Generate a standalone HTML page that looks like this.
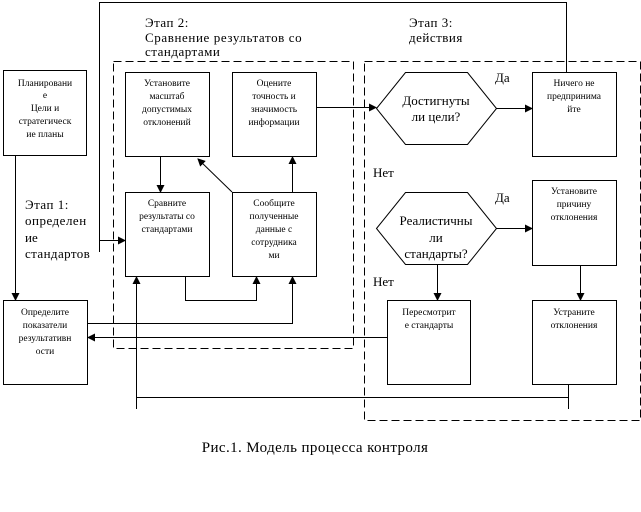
<!DOCTYPE html>
<html><head><meta charset="utf-8"><style>
body{margin:0;background:#fff;width:641px;height:507px;overflow:hidden}
svg text{font-family:"Liberation Serif","DejaVu Serif",serif;fill:#000}
.s{font-size:9.5px}
.m{font-size:13px}
</style></head><body>
<svg width="641" height="507" viewBox="0 0 641 507" xmlns="http://www.w3.org/2000/svg">
<defs><marker id="a" markerWidth="8" markerHeight="8" refX="7" refY="4" orient="auto" markerUnits="userSpaceOnUse"><path d="M0,0 L8,4 L0,8 z" fill="#000"/></marker></defs>
<g fill="none" stroke="#000" stroke-width="1">
<rect x="113.5" y="61.5" width="240" height="287" stroke-dasharray="8,4"/>
<rect x="364.5" y="61.5" width="276" height="359" stroke-dasharray="8,4"/>
<rect x="3.5" y="70.5" width="83" height="85"/>
<rect x="3.5" y="300.5" width="84" height="84"/>
<rect x="125.5" y="72.5" width="84" height="84"/>
<rect x="232.5" y="72.5" width="84" height="84"/>
<rect x="125.5" y="192.5" width="84" height="84"/>
<rect x="232.5" y="192.5" width="84" height="84"/>
<rect x="532.5" y="72.5" width="84" height="84"/>
<rect x="532.5" y="180.5" width="84" height="85"/>
<rect x="387.5" y="300.5" width="83" height="84"/>
<rect x="532.5" y="300.5" width="84" height="84"/>
<polygon points="376.5,108.5 405.5,72.5 467.5,72.5 496.5,108.5 467.5,144.5 405.5,144.5"/>
<polygon points="376.5,228.5 405.5,192.5 467.5,192.5 496.5,228.5 467.5,264.5 405.5,264.5"/>
<path d="M99.5,252 V2.5 H566.5 V72"/>
<path d="M99.5,240.5 H125" marker-end="url(#a)"/>
<path d="M15.5,155 V300" marker-end="url(#a)"/>
<path d="M160.5,156 V192" marker-end="url(#a)"/>
<path d="M232,192 L198,159" marker-end="url(#a)"/>
<path d="M292.5,192 V157" marker-end="url(#a)"/>
<path d="M316,107.5 H376" marker-end="url(#a)"/>
<path d="M496,108.5 H532" marker-end="url(#a)"/>
<path d="M496,228.5 H532" marker-end="url(#a)"/>
<path d="M437.5,264 V300" marker-end="url(#a)"/>
<path d="M580.5,265 V300" marker-end="url(#a)"/>
<path d="M185.5,276 V300.5 H256.5 V277" marker-end="url(#a)"/>
<path d="M88,323.5 H292.5 V277" marker-end="url(#a)"/>
<path d="M387,337.5 H88" marker-end="url(#a)"/>
<path d="M136.5,409 V277" marker-end="url(#a)"/>
<path d="M136,397.5 H568.5 M568.5,384 V409"/>
</g>
<g class="m">
<text x="145" y="27" letter-spacing="0.5">Этап 2:</text>
<text x="145" y="42" letter-spacing="0.6">Сравнение результатов со</text>
<text x="145" y="56" letter-spacing="0.5">стандартами</text>
<text x="409" y="27" letter-spacing="0.5">Этап 3:</text>
<text x="409" y="42" letter-spacing="0.5">действия</text>
<text x="25" y="209" letter-spacing="0.5">Этап 1:</text>
<text x="25" y="225" letter-spacing="0.5">определен</text>
<text x="25" y="242">ие</text>
<text x="25" y="258" letter-spacing="0.4">стандартов</text>
<text x="495" y="82">Да</text>
<text x="495" y="202">Да</text>
<text x="373" y="177">Нет</text>
<text x="373" y="286">Нет</text>
<text x="436" y="105" text-anchor="middle">Достигнуты</text>
<text x="436" y="121" text-anchor="middle">ли цели?</text>
<text x="436" y="225" text-anchor="middle">Реалистичны</text>
<text x="436" y="242" text-anchor="middle">ли</text>
<text x="436" y="258" text-anchor="middle">стандарты?</text>
<text x="315" y="452" text-anchor="middle" style="font-size:15px" letter-spacing="0.4">Рис.1. Модель процесса контроля</text>
</g>
<g class="s" text-anchor="middle">
<text x="45" y="86">Планировани</text><text x="45" y="98">е</text><text x="45" y="111">Цели и</text><text x="45" y="124">стратегическ</text><text x="45" y="137">ие планы</text>
<text x="167" y="86">Установите</text><text x="167" y="99">масштаб</text><text x="167" y="112">допустимых</text><text x="167" y="125">отклонений</text>
<text x="274" y="86">Оцените</text><text x="274" y="99">точность и</text><text x="274" y="112">значимость</text><text x="274" y="125">информации</text>
<text x="167" y="206">Сравните</text><text x="167" y="219">результаты со</text><text x="167" y="232">стандартами</text>
<text x="274" y="206">Сообщите</text><text x="274" y="219">полученные</text><text x="274" y="232">данные с</text><text x="274" y="245">сотрудника</text><text x="274" y="258">ми</text>
<text x="574" y="86">Ничего не</text><text x="574" y="99">предпринима</text><text x="574" y="112">йте</text>
<text x="574" y="194">Установите</text><text x="574" y="207">причину</text><text x="574" y="220">отклонения</text>
<text x="45" y="315">Определите</text><text x="45" y="328">показатели</text><text x="45" y="341">результативн</text><text x="45" y="354">ости</text>
<text x="429" y="315">Пересмотрит</text><text x="429" y="328">е стандарты</text>
<text x="574" y="315">Устраните</text><text x="574" y="328">отклонения</text>
</g>
</svg>
</body></html>
